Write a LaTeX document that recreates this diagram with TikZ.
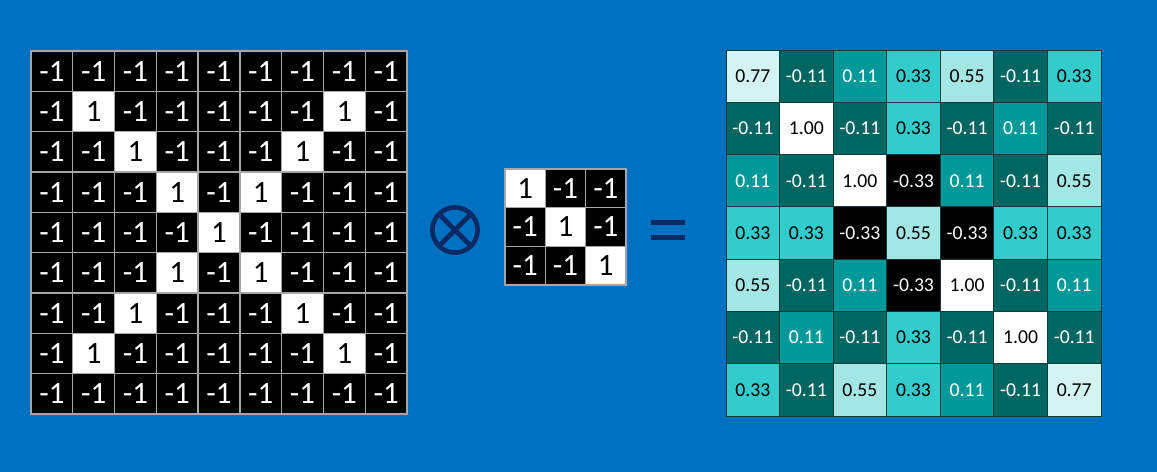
\documentclass[tikz,border=0pt]{standalone}
\usepackage{fontspec}
\setmainfont{Carlito}
\definecolor{slidebg}{HTML}{0070C0}
\definecolor{navy}{HTML}{0A2A66}
\definecolor{gridgray}{HTML}{A6A6A6}
\definecolor{mapline}{HTML}{123C3C}
\definecolor{c77}{HTML}{D3F4F2}
\definecolor{c55}{HTML}{A3E6E3}
\definecolor{c33}{HTML}{33CCCC}
\definecolor{c11}{HTML}{009999}
\definecolor{cm11}{HTML}{006661}

\tikzset{
  bigcell/.style={draw=gridgray,line width=0.9pt,minimum width=1.044cm,minimum height=1.008cm,
    inner sep=0pt,font=\fontsize{22}{24}\selectfont},
  kcell/.style={bigcell,minimum width=1.008cm,minimum height=0.967cm},
  on/.style={fill=white,text=black},
  off/.style={fill=black,text=white},
  mapcell/.style={draw=mapline,line width=0.7pt,minimum width=1.339cm,minimum height=1.307cm,
    inner sep=0pt,font=\fontsize{14}{16}\selectfont},
  v77/.style={fill=c77,text=black},
  v55/.style={fill=c55,text=black},
  v33/.style={fill=c33,text=black},
  v11/.style={fill=c11,text=white},
  vm11/.style={fill=cm11,text=white},
  vm33/.style={fill=black,text=white},
  v100/.style={fill=white,text=black}
}

\begin{document}
\begin{tikzpicture}[x=0.025cm,y=-0.025cm]
\fill[slidebg] (0,0) rectangle (1157,472);

% input image
\foreach \row [count=\r] in {{-1,-1,-1,-1,-1,-1,-1,-1,-1},{-1,1,-1,-1,-1,-1,-1,1,-1},
  {-1,-1,1,-1,-1,-1,1,-1,-1},{-1,-1,-1,1,-1,1,-1,-1,-1},{-1,-1,-1,-1,1,-1,-1,-1,-1},
  {-1,-1,-1,1,-1,1,-1,-1,-1},{-1,-1,1,-1,-1,-1,1,-1,-1},{-1,1,-1,-1,-1,-1,-1,1,-1},
  {-1,-1,-1,-1,-1,-1,-1,-1,-1}}
  \foreach \v [count=\c] in \row {
    \ifnum\v=1 \def\st{on}\else\def\st{off}\fi
    \node[bigcell,\st] (x-\r-\c) at ({31+41.78*(\c-0.5)},{51+40.33*(\r-0.5)}) {\v};
  }

% operator
\node[circle,draw=navy,line width=3.3pt,minimum size=1.13cm,inner sep=0pt,outer sep=0pt] (times) at (455,230) {};
\draw[navy,line width=3.3pt] (times.north east) -- (times.south west);
\draw[navy,line width=3.3pt] (times.north west) -- (times.south east);

% filter
\foreach \row [count=\r] in {{1,-1,-1},{-1,1,-1},{-1,-1,1}}
  \foreach \v [count=\c] in \row {
    \ifnum\v=1 \def\st{on}\else\def\st{off}\fi
    \node[kcell,\st] (k-\r-\c) at ({505+40.33*(\c-0.5)},{169+38.67*(\r-0.5)}) {\v};
  }

\fill[navy] (651,219.5) rectangle (685,224.5);
\fill[navy] (651,234.5) rectangle (685,239.5);

% feature map
\foreach \row [count=\r] in {
  {v77/0.77,vm11/-0.11,v11/0.11,v33/0.33,v55/0.55,vm11/-0.11,v33/0.33},
  {vm11/-0.11,v100/1.00,vm11/-0.11,v33/0.33,vm11/-0.11,v11/0.11,vm11/-0.11},
  {v11/0.11,vm11/-0.11,v100/1.00,vm33/-0.33,v11/0.11,vm11/-0.11,v55/0.55},
  {v33/0.33,v33/0.33,vm33/-0.33,v55/0.55,vm33/-0.33,v33/0.33,v33/0.33},
  {v55/0.55,vm11/-0.11,v11/0.11,vm33/-0.33,v100/1.00,vm11/-0.11,v11/0.11},
  {vm11/-0.11,v11/0.11,vm11/-0.11,v33/0.33,vm11/-0.11,v100/1.00,vm11/-0.11},
  {v33/0.33,vm11/-0.11,v55/0.55,v33/0.33,v11/0.11,vm11/-0.11,v77/0.77}}
  \foreach \st/\v [count=\c] in \row
    \node[mapcell,\st] (m-\r-\c) at ({726+53.57*(\c-0.5)},{50+52.29*(\r-0.5)}) {\v};
\end{tikzpicture}
\end{document}
